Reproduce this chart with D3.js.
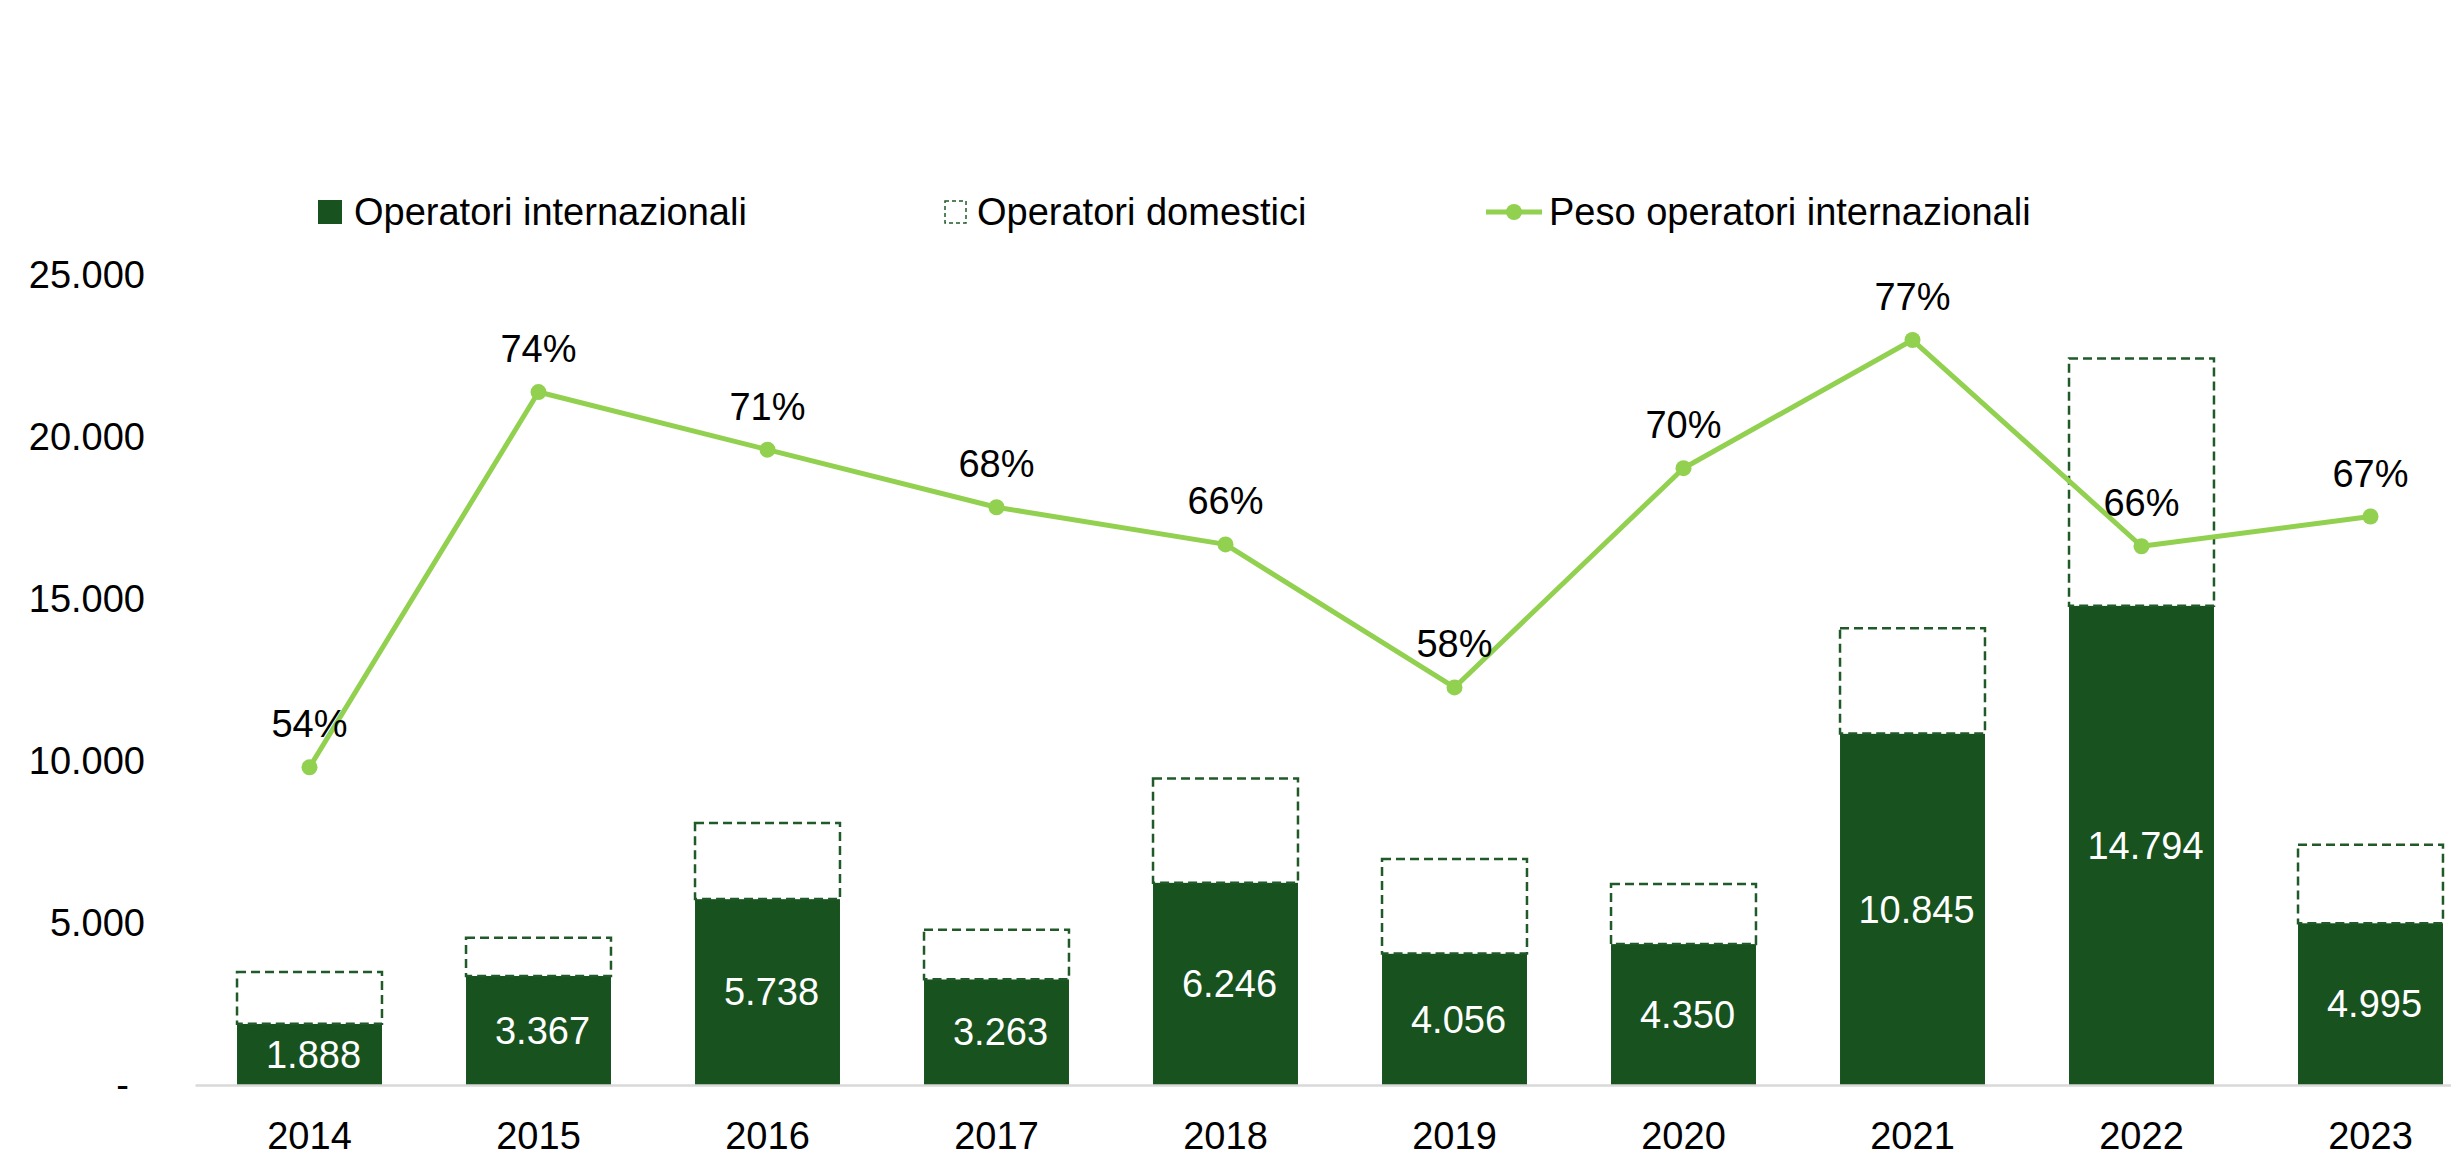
<!DOCTYPE html>
<html>
<head>
<meta charset="utf-8">
<script src="https://cdn.jsdelivr.net/npm/d3@7"></script>
<style>
  body { margin: 0; background: #fff; }
  svg { display: block; font-family: 'Liberation Sans', Arial, sans-serif; }
</style>
</head>
<body>
<div id="viz"></div>
<script>
// Data
const years = ['2014', '2015', '2016', '2017', '2018', '2019', '2020', '2021', '2022', '2023'];
const intl = [1888, 3367, 5738, 3263, 6246, 4056, 4350, 10845, 14794, 4995];
const domestic = [1600, 1180, 2350, 1530, 3215, 2920, 1850, 3250, 7630, 2420];
const share = [0.539, 0.741, 0.710, 0.679, 0.659, 0.582, 0.700, 0.769, 0.658, 0.674];
const yTicks = [0, 5000, 10000, 15000, 20000, 25000];
const legendLabels = ['Operatori internazionali', 'Operatori domestici', 'Peso operatori internazionali'];

const width = 2451;
const height = 1159;
const margin = {top: 275, left: 195, bottom: 74};
const step = 229; // band width of each year
const darkGreen = '#17521f';
const lightGreen = '#92d050';
const fontSize = '38px';

const it = d3.formatLocale({decimal: ',', thousands: '.', grouping: [3], currency: ['', '€']});
const fmt = it.format(',.0f');
const pct = d3.format('.0%');

const svg = d3.select('#viz')
  .append('svg')
    .attr('width', width)
    .attr('height', height);

// Scales
const xScale = d3.scaleBand()
  .domain(years)
  .range([margin.left, margin.left + step * years.length])
  .paddingInner(0.367)
  .paddingOuter(0.1835);
const yScale = d3.scaleLinear()
  .domain([0, 25000])
  .range([height - margin.bottom, margin.top]);
// hidden secondary axis for the share line
const y2Scale = d3.scaleLinear()
  .domain([0.368, 0.804])
  .range([height - margin.bottom, margin.top]);

// Y axis (no line, no ticks)
const yAxis = d3.axisLeft(yScale)
  .tickValues(yTicks)
  .tickSize(0)
  .tickPadding(50)
  .tickFormat(d => d === 0 ? '-' : fmt(d));
const yAxisGroup = svg.append('g')
    .attr('transform', `translate(${margin.left}, 0)`)
    .call(yAxis);
yAxisGroup.select('.domain').remove();
yAxisGroup.selectAll('text')
    .style('font-size', fontSize)
    .attr('fill', '#000')
    .attr('font-family', null)
    .attr('x', d => d === 0 ? -66 : -50);

// Bars: internazionali
svg.selectAll('.bar-intl')
  .data(years)
  .join('rect')
    .attr('class', 'bar-intl')
    .attr('x', d => xScale(d))
    .attr('width', xScale.bandwidth())
    .attr('y', (d, i) => yScale(intl[i]))
    .attr('height', (d, i) => yScale(0) - yScale(intl[i]))
    .attr('fill', darkGreen);

// Bars: domestici (dashed outline on top)
svg.selectAll('.bar-dom')
  .data(years)
  .join('rect')
    .attr('class', 'bar-dom')
    .attr('x', d => xScale(d))
    .attr('width', xScale.bandwidth())
    .attr('y', (d, i) => yScale(intl[i] + domestic[i]))
    .attr('height', (d, i) => yScale(intl[i]) - yScale(intl[i] + domestic[i]))
    .attr('fill', '#fff')
    .attr('stroke', '#1f5a28')
    .attr('stroke-width', 2.5)
    .attr('stroke-dasharray', '9,5');

// X axis with grey baseline
const xAxis = d3.axisBottom(xScale)
  .tickSize(0)
  .tickPadding(37);
const xAxisGroup = svg.append('g')
    .attr('transform', `translate(0, ${yScale(0)})`)
    .call(xAxis);
xAxisGroup.select('.domain')
    .attr('stroke', '#d9d9d9')
    .attr('stroke-width', 2.5);
xAxisGroup.selectAll('text')
    .style('font-size', fontSize)
    .attr('fill', '#000')
    .attr('font-family', null);

// Value labels inside dark bars
svg.selectAll('.lbl-intl')
  .data(years)
  .join('text')
    .attr('class', 'lbl-intl')
    .attr('x', d => xScale(d) + xScale.bandwidth() / 2 + 4)
    .attr('y', (d, i) => (yScale(intl[i]) + yScale(0)) / 2)
    .attr('dy', '0.35em')
    .attr('text-anchor', 'middle')
    .attr('fill', '#fff')
    .style('font-size', fontSize)
    .text((d, i) => fmt(intl[i]));

// Share line
const cx = d => xScale(d) + xScale.bandwidth() / 2;
const line = d3.line()
  .x(d => cx(d))
  .y((d, i) => y2Scale(share[i]));
svg.append('path')
    .attr('d', line(years))
    .attr('fill', 'none')
    .attr('stroke', lightGreen)
    .attr('stroke-width', 5)
    .attr('stroke-linejoin', 'round');
svg.selectAll('.dot')
  .data(years)
  .join('circle')
    .attr('class', 'dot')
    .attr('cx', d => cx(d))
    .attr('cy', (d, i) => y2Scale(share[i]))
    .attr('r', 8)
    .attr('fill', lightGreen);
svg.selectAll('.lbl-share')
  .data(years)
  .join('text')
    .attr('class', 'lbl-share')
    .attr('x', d => cx(d))
    .attr('y', (d, i) => y2Scale(share[i]) - 30)
    .attr('text-anchor', 'middle')
    .attr('fill', '#000')
    .style('font-size', fontSize)
    .text((d, i) => pct(share[i]));

// Legend
const legend = svg.append('g').attr('transform', 'translate(0, 212)');
legend.append('rect')
    .attr('x', 318).attr('y', -12)
    .attr('width', 24).attr('height', 24)
    .attr('fill', darkGreen);
legend.append('rect')
    .attr('x', 945).attr('y', -11)
    .attr('width', 21).attr('height', 22)
    .attr('fill', '#fff')
    .attr('stroke', '#1f5a28')
    .attr('stroke-width', 1.5)
    .attr('stroke-dasharray', '4,3');
legend.append('line')
    .attr('x1', 1486).attr('x2', 1542)
    .attr('y1', 0).attr('y2', 0)
    .attr('stroke', lightGreen)
    .attr('stroke-width', 5);
legend.append('circle')
    .attr('cx', 1514).attr('cy', 0)
    .attr('r', 8)
    .attr('fill', lightGreen);
legend.selectAll('text')
  .data(legendLabels)
  .join('text')
    .attr('x', (d, i) => [354, 977, 1549][i])
    .attr('y', 0)
    .attr('dy', '0.35em')
    .attr('fill', '#000')
    .style('font-size', fontSize)
    .text(d => d);
</script>
</body>
</html>
